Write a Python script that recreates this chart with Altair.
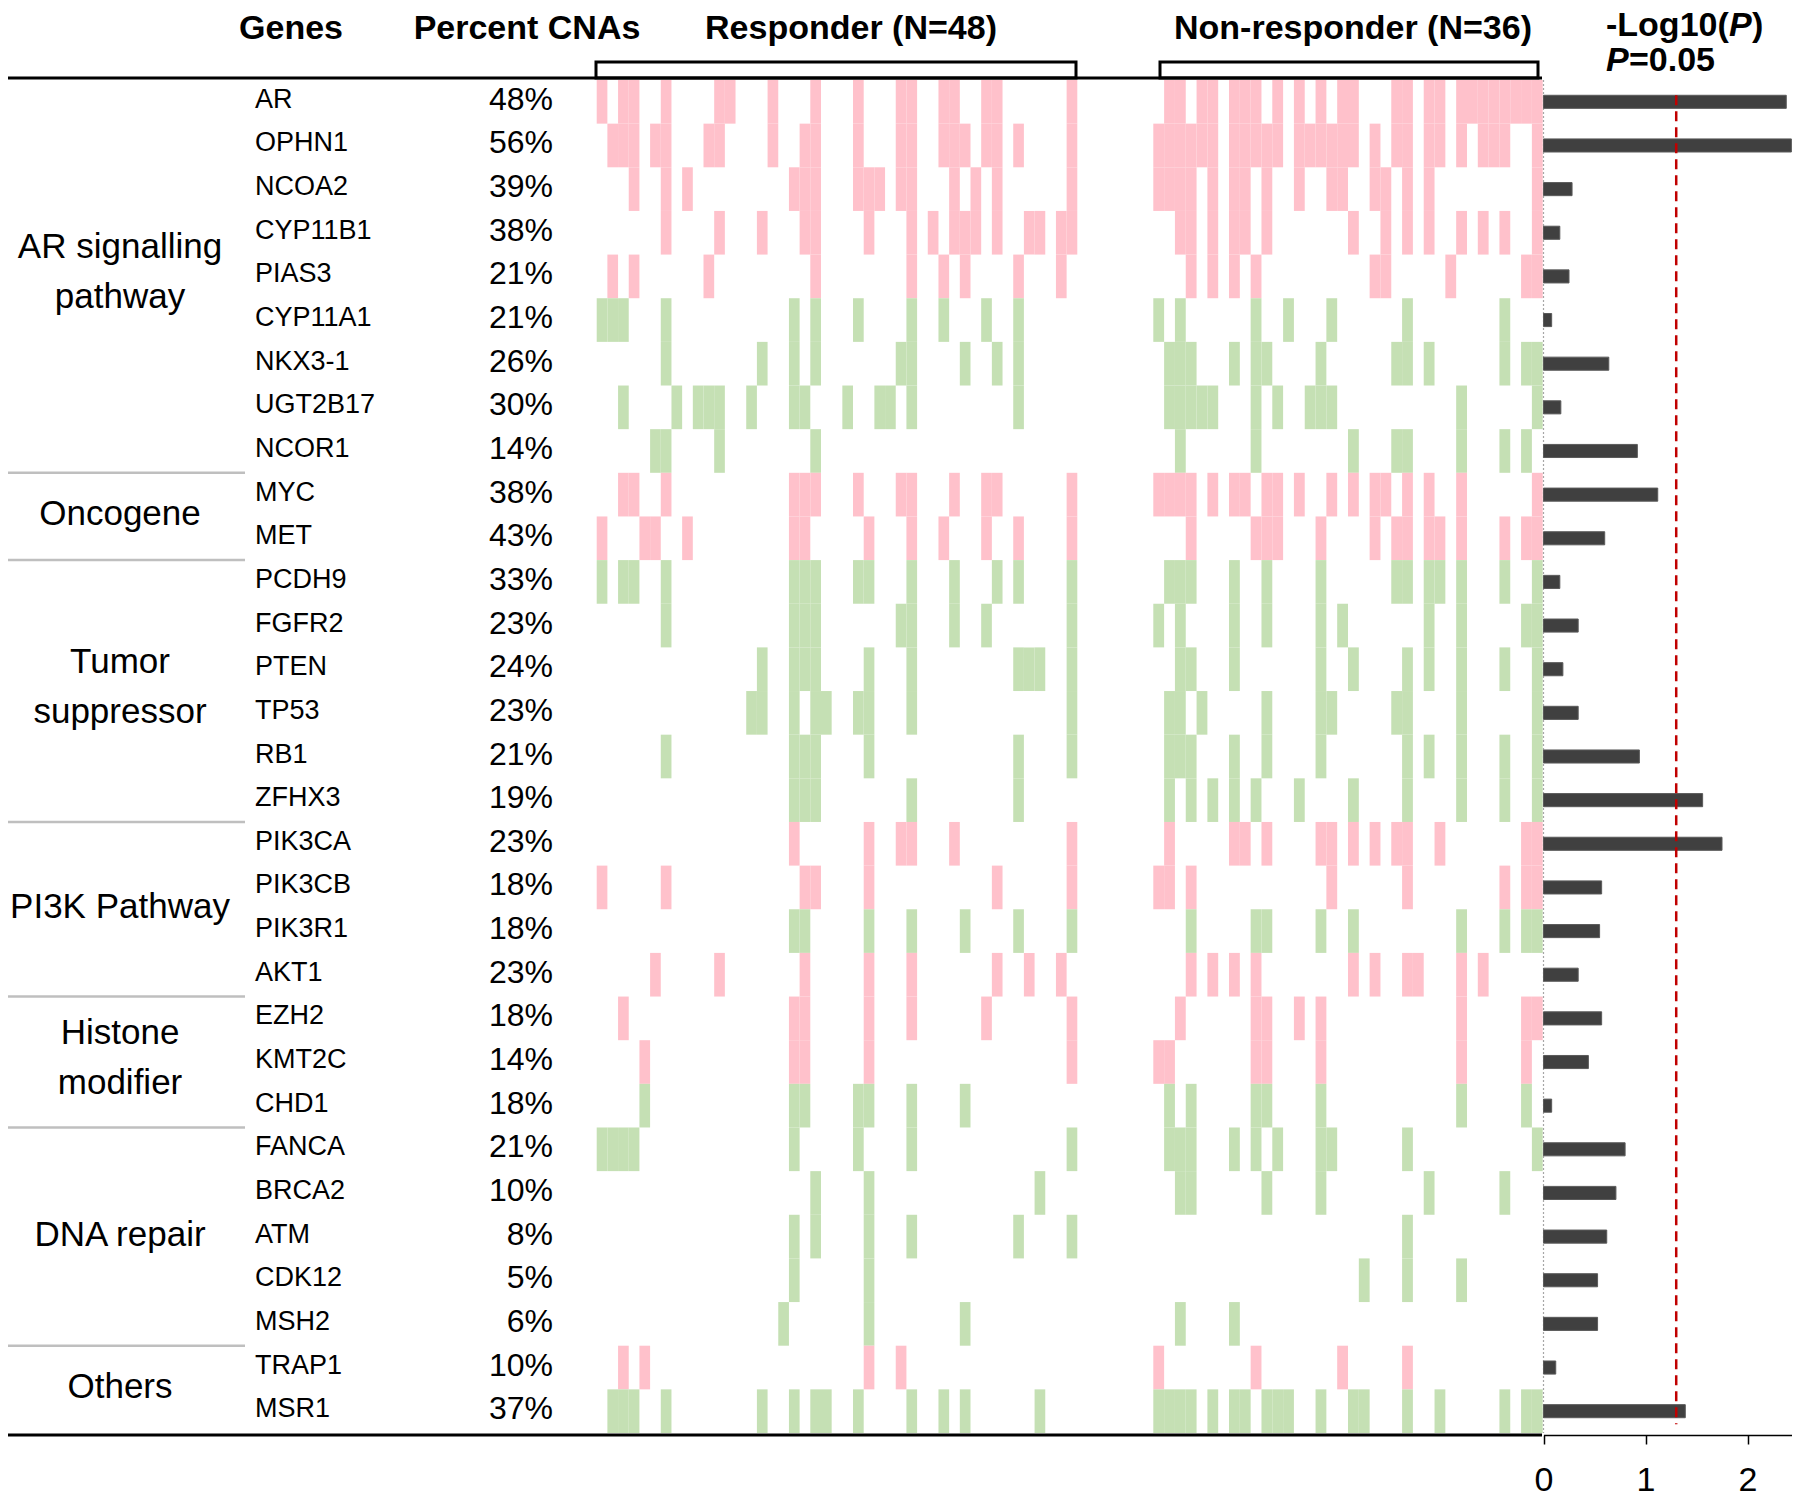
import altair as alt
import pandas as pd
import math

# ---------------- data ----------------
genes = ["AR", "OPHN1", "NCOA2", "CYP11B1", "PIAS3", "CYP11A1", "NKX3-1", "UGT2B17", "NCOR1",
         "MYC", "MET",
         "PCDH9", "FGFR2", "PTEN", "TP53", "RB1", "ZFHX3",
         "PIK3CA", "PIK3CB", "PIK3R1", "AKT1",
         "EZH2", "KMT2C", "CHD1",
         "FANCA", "BRCA2", "ATM", "CDK12", "MSH2",
         "TRAP1", "MSR1"]

percent_labels = ["48%", "56%", "39%", "38%", "21%", "21%", "26%", "30%", "14%",
                  "38%", "43%",
                  "33%", "23%", "24%", "23%", "21%", "19%",
                  "23%", "18%", "18%", "23%",
                  "18%", "14%", "18%",
                  "21%", "10%", "8%", "5%", "6%",
                  "10%", "37%"]

gain_genes = ["AR", "OPHN1", "NCOA2", "CYP11B1", "PIAS3", "MYC", "MET",
              "PIK3CA", "PIK3CB", "AKT1", "EZH2", "KMT2C", "TRAP1"]

category_names = ["AR signalling\npathway", "Oncogene", "Tumor\nsuppressor", "PI3K Pathway",
                  "Histone\nmodifier", "DNA repair", "Others"]
category_sizes = [9, 2, 6, 4, 3, 5, 2]

neg_log10_p = [2.38, 2.43, 0.28, 0.16, 0.25, 0.08, 0.64, 0.17, 0.92,
               1.12, 0.60,
               0.16, 0.34, 0.19, 0.34, 0.94, 1.56,
               1.75, 0.57, 0.55, 0.34,
               0.57, 0.44, 0.08,
               0.80, 0.71, 0.62, 0.53, 0.53,
               0.12, 1.39]

responder_columns = 45
nonresponder_columns = 36

responder_cna = {
    "AR": [0, 2, 3, 6, 11, 12, 16, 20, 24, 28, 29, 32, 33, 36, 37, 44],
    "OPHN1": [1, 2, 3, 5, 6, 10, 11, 16, 19, 20, 24, 28, 29, 32, 33, 34, 36, 37, 39, 44],
    "NCOA2": [3, 6, 8, 18, 19, 20, 24, 25, 26, 28, 29, 33, 35, 37, 44],
    "CYP11B1": [6, 11, 15, 19, 20, 25, 29, 31, 33, 34, 35, 37, 40, 41, 43, 44],
    "PIAS3": [1, 3, 10, 20, 29, 32, 34, 39, 43],
    "CYP11A1": [0, 1, 2, 6, 18, 20, 24, 29, 32, 36, 39],
    "NKX3-1": [6, 15, 18, 20, 28, 29, 34, 37, 39],
    "UGT2B17": [2, 7, 9, 10, 11, 14, 18, 19, 23, 26, 27, 29, 39],
    "NCOR1": [5, 6, 11, 20],
    "MYC": [2, 3, 6, 18, 19, 20, 24, 28, 29, 33, 36, 37, 44],
    "MET": [0, 4, 5, 8, 18, 19, 25, 29, 32, 36, 39, 44],
    "PCDH9": [0, 2, 3, 6, 18, 19, 20, 24, 25, 29, 33, 37, 39, 44],
    "FGFR2": [6, 18, 19, 20, 28, 29, 33, 36, 44],
    "PTEN": [15, 18, 19, 20, 25, 29, 39, 40, 41, 44],
    "TP53": [14, 15, 18, 20, 21, 24, 25, 29, 44],
    "RB1": [6, 18, 19, 20, 25, 39, 44],
    "ZFHX3": [18, 19, 20, 29, 39],
    "PIK3CA": [18, 25, 28, 29, 33, 44],
    "PIK3CB": [0, 6, 19, 20, 25, 37, 44],
    "PIK3R1": [18, 19, 25, 29, 34, 39, 44],
    "AKT1": [5, 11, 19, 25, 29, 37, 40, 43],
    "EZH2": [2, 18, 19, 25, 29, 36, 44],
    "KMT2C": [4, 18, 19, 25, 44],
    "CHD1": [4, 18, 19, 24, 25, 29, 34],
    "FANCA": [0, 1, 2, 3, 18, 24, 29, 44],
    "BRCA2": [20, 25, 41],
    "ATM": [18, 20, 25, 29, 39, 44],
    "CDK12": [18, 25],
    "MSH2": [17, 25, 34],
    "TRAP1": [2, 4, 25, 28],
    "MSR1": [1, 2, 3, 6, 15, 18, 20, 21, 24, 29, 32, 34, 41],
}

nonresponder_cna = {
    "AR": [1, 2, 4, 5, 7, 8, 9, 11, 13, 15, 17, 18, 22, 23, 25, 26, 28, 29, 30, 31, 32, 33, 34, 35],
    "OPHN1": [0, 1, 2, 3, 4, 5, 7, 8, 9, 10, 11, 13, 14, 15, 16, 17, 18, 20, 22, 23, 25, 26, 28, 30, 31, 32, 35],
    "NCOA2": [0, 1, 2, 3, 5, 7, 8, 10, 13, 16, 17, 20, 21, 23, 25, 35],
    "CYP11B1": [2, 3, 5, 7, 8, 10, 18, 21, 23, 25, 28, 30, 32, 35],
    "PIAS3": [3, 5, 7, 9, 20, 21, 27, 34, 35],
    "CYP11A1": [0, 2, 9, 12, 16, 23, 32],
    "NKX3-1": [1, 2, 3, 7, 9, 10, 15, 22, 23, 25, 32, 34, 35],
    "UGT2B17": [1, 2, 3, 4, 5, 9, 11, 14, 15, 16, 28, 35],
    "NCOR1": [2, 9, 18, 22, 23, 28, 32, 34],
    "MYC": [0, 1, 2, 3, 5, 7, 8, 10, 11, 13, 16, 18, 20, 21, 23, 25, 28, 35],
    "MET": [3, 9, 10, 11, 15, 20, 22, 23, 25, 26, 28, 32, 34, 35],
    "PCDH9": [1, 2, 3, 7, 10, 15, 22, 23, 25, 26, 28, 32, 35],
    "FGFR2": [0, 2, 7, 10, 15, 17, 25, 28, 34, 35],
    "PTEN": [2, 3, 7, 15, 18, 23, 25, 28, 32, 35],
    "TP53": [1, 2, 4, 10, 15, 16, 22, 23, 28, 35],
    "RB1": [1, 2, 3, 7, 10, 15, 23, 25, 28, 32, 35],
    "ZFHX3": [1, 3, 5, 7, 9, 13, 18, 23, 28, 32, 35],
    "PIK3CA": [1, 7, 8, 10, 15, 16, 18, 20, 22, 23, 26, 34, 35],
    "PIK3CB": [0, 1, 3, 16, 23, 32, 34, 35],
    "PIK3R1": [3, 9, 10, 15, 18, 28, 32, 34, 35],
    "AKT1": [3, 5, 7, 9, 18, 20, 23, 24, 28, 30],
    "EZH2": [2, 9, 10, 13, 15, 28, 34, 35],
    "KMT2C": [0, 1, 9, 10, 15, 28, 34],
    "CHD1": [1, 3, 9, 10, 15, 28, 34],
    "FANCA": [1, 2, 3, 7, 9, 11, 15, 16, 23, 35],
    "BRCA2": [2, 3, 10, 15, 25, 32],
    "ATM": [23],
    "CDK12": [19, 23, 28],
    "MSH2": [2, 7],
    "TRAP1": [0, 9, 17, 23],
    "MSR1": [0, 1, 2, 3, 5, 7, 8, 10, 11, 12, 15, 18, 19, 23, 26, 32, 34, 35],
}

p_threshold = -math.log10(0.05)

# ---------------- tables ----------------
def cells(table):
    rows = []
    for i, g in enumerate(genes):
        kind = "gain" if g in gain_genes else "loss"
        for c in table[g]:
            rows.append({"gene": g, "c": c, "c2": c + 1, "r": i, "r2": i + 1, "kind": kind})
    return pd.DataFrame(rows)

resp_df = cells(responder_cna)
nonresp_df = cells(nonresponder_cna)

gene_df = pd.DataFrame({
    "gene": genes,
    "pct": percent_labels,
    "p": neg_log10_p,
    "zero": [0.0] * len(genes),
    "rm": [i + 0.5 for i in range(len(genes))],
    "rb": [i + 0.35 for i in range(len(genes))],
    "rb2": [i + 0.65 for i in range(len(genes))],
})

starts = []
acc = 0
for s in category_sizes:
    starts.append(acc)
    acc += s
cat_df = pd.DataFrame({
    "name": category_names,
    "mid": [st + s / 2 for st, s in zip(starts, category_sizes)],
    "lines": [n.count("\n") + 1 for n in category_names],
})
sep_df = pd.DataFrame({"b": starts[1:]})

# ---------------- scales ----------------
N = len(genes)
yscale = alt.Scale(domain=[0, N], range=[72, 1425], zero=False, nice=False)
resp_scale = alt.Scale(domain=[0, responder_columns], range=[588.7, 1069.3], zero=False, nice=False)
nonresp_scale = alt.Scale(domain=[0, nonresponder_columns], range=[1145.3, 1534.7], zero=False, nice=False)
bar_scale = alt.Scale(domain=[0, 2.44], range=[1535.5, 1784.4], zero=False, nice=False)
color_scale = alt.Scale(domain=["gain", "loss"], range=["#FFC1CB", "#C5E0B4"])

FONT = "Liberation Sans, Arial"

def heat(df, xs):
    return alt.Chart(df).mark_rect().encode(
        x=alt.X("c:Q", scale=xs, axis=None),
        x2="c2:Q",
        y=alt.Y("r:Q", scale=yscale, axis=None),
        y2="r2:Q",
        color=alt.Color("kind:N", scale=color_scale, legend=None),
    )

resp_layer = heat(resp_df, resp_scale)
nonresp_layer = heat(nonresp_df, nonresp_scale)

bars = alt.Chart(gene_df).mark_rect(color="#404040", stroke="#5a5a5a", strokeWidth=1).encode(
    x=alt.X("zero:Q", scale=bar_scale,
            axis=alt.Axis(values=[0, 1, 2], orient="bottom", title=None, grid=False,
                          labelFontSize=34, labelFont=FONT, labelColor="black",
                          labelFlush=False, labelOverlap=False,
                          tickSize=9, tickColor="black", tickWidth=1.5,
                          domainColor="black", domainWidth=1.5, labelPadding=19,
                          format="d")),
    x2="p:Q",
    y=alt.Y("rb:Q", scale=yscale, axis=None),
    y2="rb2:Q",
)

zero_line = alt.Chart(pd.DataFrame({"v": [0.0], "a": [0.0], "b": [float(N)]})).mark_rule(
    color="#A6A6A6", strokeWidth=1.2, strokeDash=[2, 2]).encode(
    x=alt.X("v:Q", scale=bar_scale, axis=None),
    y=alt.Y("a:Q", scale=yscale, axis=None),
    y2="b:Q",
)

pline = alt.Chart(pd.DataFrame({"v": [p_threshold], "a": [0.35], "b": [30.8]})).mark_rule(
    color="#C00000", strokeWidth=2.5, strokeDash=[10, 6]).encode(
    x=alt.X("v:Q", scale=bar_scale, axis=None),
    y=alt.Y("a:Q", scale=yscale, axis=None),
    y2="b:Q",
)

gene_text = alt.Chart(gene_df).mark_text(align="left", baseline="middle", fontSize=27,
                                         font=FONT, color="black", dy=-2).encode(
    x=alt.value(247),
    y=alt.Y("rm:Q", scale=yscale, axis=None),
    text="gene:N",
)

pct_text = alt.Chart(gene_df).mark_text(align="right", baseline="middle", fontSize=32,
                                        font=FONT, color="black", dy=-2).encode(
    x=alt.value(545),
    y=alt.Y("rm:Q", scale=yscale, axis=None),
    text="pct:N",
)

def cat_layer(nlines, dy):
    return alt.Chart(cat_df).transform_filter(
        alt.datum.lines == nlines
    ).mark_text(align="center", baseline="middle", fontSize=35,
                font=FONT, color="black", lineBreak="\n",
                lineHeight=50, dy=dy).encode(
        x=alt.value(112),
        y=alt.Y("mid:Q", scale=yscale, axis=None),
        text="name:N",
    )

cat_text_1 = cat_layer(1, -2)
cat_text_2 = cat_layer(2, -29)

separators = alt.Chart(sep_df).mark_rule(color="#BFBFBF", strokeWidth=2.5).encode(
    x=alt.value(0), x2=alt.value(237),
    y=alt.Y("b:Q", scale=yscale, axis=None),
)

one = pd.DataFrame({"k": [0]})
top_line = alt.Chart(one).mark_rule(color="black", strokeWidth=3).encode(
    x=alt.value(0), x2=alt.value(1534), y=alt.value(70))
bottom_line = alt.Chart(one).mark_rule(color="black", strokeWidth=3).encode(
    x=alt.value(0), x2=alt.value(1534), y=alt.value(1427))
bracket_r = alt.Chart(one).mark_rect(fillOpacity=0, stroke="black", strokeWidth=3).encode(
    x=alt.value(588), x2=alt.value(1068), y=alt.value(54), y2=alt.value(70))
bracket_n = alt.Chart(one).mark_rect(fillOpacity=0, stroke="black", strokeWidth=3).encode(
    x=alt.value(1152), x2=alt.value(1530), y=alt.value(54), y2=alt.value(70))

def header(label, x, y, align="center", italic=False):
    return alt.Chart(pd.DataFrame({"t": [label]})).mark_text(
        align=align, baseline="middle", fontSize=34, font=FONT, fontWeight="bold",
        fontStyle="italic" if italic else "normal", color="black").encode(
        x=alt.value(x), y=alt.value(y), text="t:N")

headers = [
    header("Genes", 283, 21),
    header("Percent CNAs", 519, 21),
    header("Responder (N=48)", 843, 21),
    header("Non-responder (N=36)", 1345, 21),
    header("-Log10(", 1598, 18, align="left"),
    header("P", 1721, 18, align="left", italic=True),
    header(")", 1744, 18, align="left"),
    header("P", 1598, 53, align="left", italic=True),
    header("=0.05", 1621, 53, align="left"),
]

chart = alt.layer(
    resp_layer, nonresp_layer, zero_line, bars, pline,
    separators, gene_text, pct_text, cat_text_1, cat_text_2,
    top_line, bottom_line, bracket_r, bracket_n, *headers
).resolve_scale(x="independent").properties(
    width=1784, height=1427,
    padding={"left": 0, "top": 0, "right": 0, "bottom": 64},
    autosize=alt.AutoSizeParams(type="none"),
    background="white",
).configure_view(stroke=None)

chart.save("out.html", embed_options={"renderer": "svg", "actions": False})
